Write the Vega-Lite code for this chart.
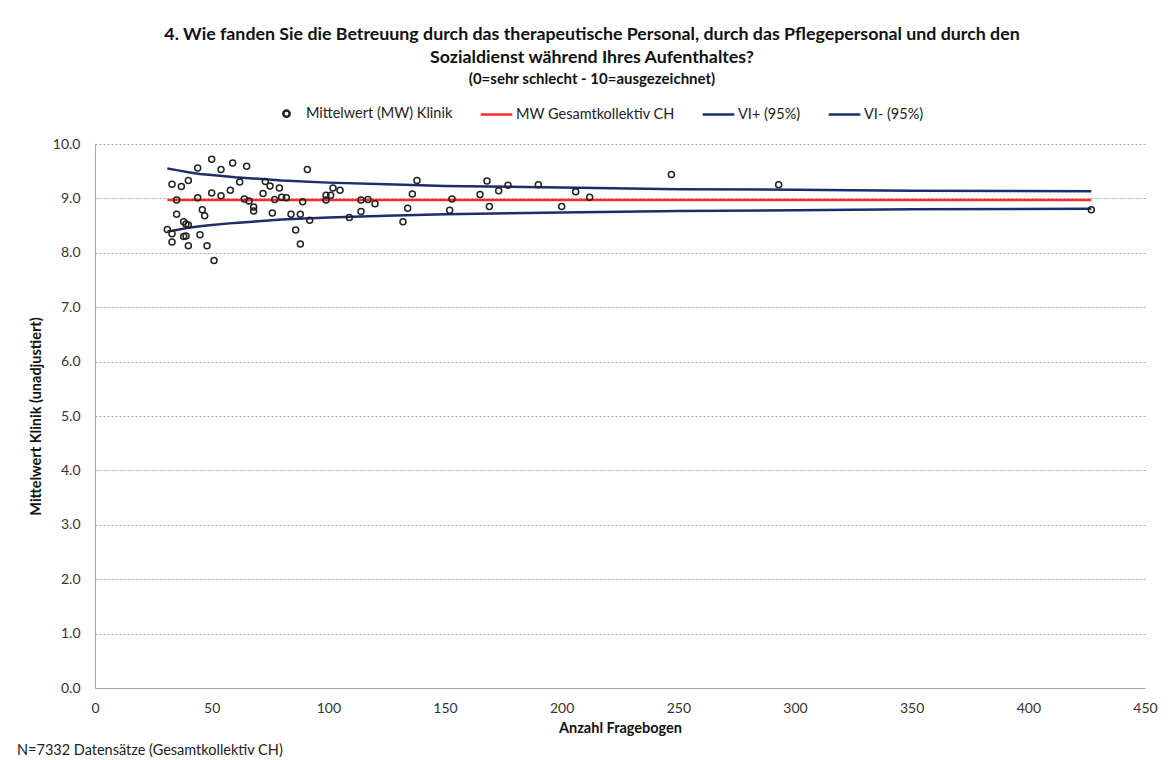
{
  "$schema": "https://vega.github.io/schema/vega-lite/v6.json",
  "padding": {"left": 17, "top": 26, "right": 12, "bottom": 4},
  "background": "white",
  "title": {
    "text": ["4. Wie fanden Sie die Betreuung durch das therapeutische Personal, durch das Pflegepersonal und durch den", "Sozialdienst während Ihres Aufenthaltes?"],
    "subtitle": "(0=sehr schlecht - 10=ausgezeichnet)",
    "anchor": "middle",
    "frame": "group",
    "dx": -28,
    "offset": 9,
    "font": "Lato",
    "fontSize": 17.8,
    "fontWeight": "bold",
    "lineHeight": 23,
    "color": "#111",
    "subtitleFont": "Lato",
    "subtitleFontSize": 15,
    "subtitleFontWeight": "bold",
    "subtitleColor": "#111",
    "subtitlePadding": 5
  },
  "datasets": {
    "points": [
      {"n": 31, "mw": 8.43, "series": "Mittelwert (MW) Klinik"},
      {"n": 33, "mw": 8.35, "series": "Mittelwert (MW) Klinik"},
      {"n": 33, "mw": 8.20, "series": "Mittelwert (MW) Klinik"},
      {"n": 33, "mw": 9.26, "series": "Mittelwert (MW) Klinik"},
      {"n": 35, "mw": 8.97, "series": "Mittelwert (MW) Klinik"},
      {"n": 35, "mw": 8.71, "series": "Mittelwert (MW) Klinik"},
      {"n": 37, "mw": 9.22, "series": "Mittelwert (MW) Klinik"},
      {"n": 38, "mw": 8.57, "series": "Mittelwert (MW) Klinik"},
      {"n": 38, "mw": 8.30, "series": "Mittelwert (MW) Klinik"},
      {"n": 39, "mw": 8.31, "series": "Mittelwert (MW) Klinik"},
      {"n": 39, "mw": 8.53, "series": "Mittelwert (MW) Klinik"},
      {"n": 40, "mw": 9.33, "series": "Mittelwert (MW) Klinik"},
      {"n": 40, "mw": 8.51, "series": "Mittelwert (MW) Klinik"},
      {"n": 40, "mw": 8.13, "series": "Mittelwert (MW) Klinik"},
      {"n": 44, "mw": 9.56, "series": "Mittelwert (MW) Klinik"},
      {"n": 44, "mw": 9.01, "series": "Mittelwert (MW) Klinik"},
      {"n": 45, "mw": 8.33, "series": "Mittelwert (MW) Klinik"},
      {"n": 46, "mw": 8.79, "series": "Mittelwert (MW) Klinik"},
      {"n": 47, "mw": 8.68, "series": "Mittelwert (MW) Klinik"},
      {"n": 48, "mw": 8.13, "series": "Mittelwert (MW) Klinik"},
      {"n": 50, "mw": 9.72, "series": "Mittelwert (MW) Klinik"},
      {"n": 50, "mw": 9.10, "series": "Mittelwert (MW) Klinik"},
      {"n": 51, "mw": 7.86, "series": "Mittelwert (MW) Klinik"},
      {"n": 54, "mw": 9.53, "series": "Mittelwert (MW) Klinik"},
      {"n": 54, "mw": 9.05, "series": "Mittelwert (MW) Klinik"},
      {"n": 58, "mw": 9.15, "series": "Mittelwert (MW) Klinik"},
      {"n": 59, "mw": 9.65, "series": "Mittelwert (MW) Klinik"},
      {"n": 62, "mw": 9.30, "series": "Mittelwert (MW) Klinik"},
      {"n": 64, "mw": 8.99, "series": "Mittelwert (MW) Klinik"},
      {"n": 65, "mw": 9.59, "series": "Mittelwert (MW) Klinik"},
      {"n": 66, "mw": 8.95, "series": "Mittelwert (MW) Klinik"},
      {"n": 68, "mw": 8.84, "series": "Mittelwert (MW) Klinik"},
      {"n": 68, "mw": 8.77, "series": "Mittelwert (MW) Klinik"},
      {"n": 72, "mw": 9.09, "series": "Mittelwert (MW) Klinik"},
      {"n": 73, "mw": 9.31, "series": "Mittelwert (MW) Klinik"},
      {"n": 75, "mw": 9.23, "series": "Mittelwert (MW) Klinik"},
      {"n": 76, "mw": 8.73, "series": "Mittelwert (MW) Klinik"},
      {"n": 77, "mw": 8.98, "series": "Mittelwert (MW) Klinik"},
      {"n": 79, "mw": 9.19, "series": "Mittelwert (MW) Klinik"},
      {"n": 80, "mw": 9.02, "series": "Mittelwert (MW) Klinik"},
      {"n": 82, "mw": 9.01, "series": "Mittelwert (MW) Klinik"},
      {"n": 84, "mw": 8.71, "series": "Mittelwert (MW) Klinik"},
      {"n": 86, "mw": 8.42, "series": "Mittelwert (MW) Klinik"},
      {"n": 88, "mw": 8.71, "series": "Mittelwert (MW) Klinik"},
      {"n": 88, "mw": 8.16, "series": "Mittelwert (MW) Klinik"},
      {"n": 89, "mw": 8.94, "series": "Mittelwert (MW) Klinik"},
      {"n": 91, "mw": 9.53, "series": "Mittelwert (MW) Klinik"},
      {"n": 92, "mw": 8.60, "series": "Mittelwert (MW) Klinik"},
      {"n": 99, "mw": 9.06, "series": "Mittelwert (MW) Klinik"},
      {"n": 99, "mw": 8.97, "series": "Mittelwert (MW) Klinik"},
      {"n": 101, "mw": 9.06, "series": "Mittelwert (MW) Klinik"},
      {"n": 102, "mw": 9.19, "series": "Mittelwert (MW) Klinik"},
      {"n": 105, "mw": 9.15, "series": "Mittelwert (MW) Klinik"},
      {"n": 109, "mw": 8.65, "series": "Mittelwert (MW) Klinik"},
      {"n": 114, "mw": 8.97, "series": "Mittelwert (MW) Klinik"},
      {"n": 114, "mw": 8.76, "series": "Mittelwert (MW) Klinik"},
      {"n": 117, "mw": 8.98, "series": "Mittelwert (MW) Klinik"},
      {"n": 120, "mw": 8.90, "series": "Mittelwert (MW) Klinik"},
      {"n": 132, "mw": 8.57, "series": "Mittelwert (MW) Klinik"},
      {"n": 134, "mw": 8.82, "series": "Mittelwert (MW) Klinik"},
      {"n": 136, "mw": 9.08, "series": "Mittelwert (MW) Klinik"},
      {"n": 138, "mw": 9.33, "series": "Mittelwert (MW) Klinik"},
      {"n": 152, "mw": 8.78, "series": "Mittelwert (MW) Klinik"},
      {"n": 153, "mw": 8.99, "series": "Mittelwert (MW) Klinik"},
      {"n": 165, "mw": 9.07, "series": "Mittelwert (MW) Klinik"},
      {"n": 168, "mw": 9.32, "series": "Mittelwert (MW) Klinik"},
      {"n": 169, "mw": 8.85, "series": "Mittelwert (MW) Klinik"},
      {"n": 173, "mw": 9.14, "series": "Mittelwert (MW) Klinik"},
      {"n": 177, "mw": 9.24, "series": "Mittelwert (MW) Klinik"},
      {"n": 190, "mw": 9.25, "series": "Mittelwert (MW) Klinik"},
      {"n": 200, "mw": 8.85, "series": "Mittelwert (MW) Klinik"},
      {"n": 206, "mw": 9.12, "series": "Mittelwert (MW) Klinik"},
      {"n": 212, "mw": 9.02, "series": "Mittelwert (MW) Klinik"},
      {"n": 247, "mw": 9.44, "series": "Mittelwert (MW) Klinik"},
      {"n": 293, "mw": 9.25, "series": "Mittelwert (MW) Klinik"},
      {"n": 427, "mw": 8.79, "series": "Mittelwert (MW) Klinik"}
    ],
    "lines": [
      {"n": 31, "v": 8.97, "series": "MW Gesamtkollektiv CH"},
      {"n": 427, "v": 8.97, "series": "MW Gesamtkollektiv CH"},
      {"n": 31, "v": 9.55, "series": "VI+ (95%)"},
      {"n": 35, "v": 9.52, "series": "VI+ (95%)"},
      {"n": 40, "v": 9.48, "series": "VI+ (95%)"},
      {"n": 45, "v": 9.45, "series": "VI+ (95%)"},
      {"n": 50, "v": 9.43, "series": "VI+ (95%)"},
      {"n": 60, "v": 9.39, "series": "VI+ (95%)"},
      {"n": 70, "v": 9.36, "series": "VI+ (95%)"},
      {"n": 80, "v": 9.33, "series": "VI+ (95%)"},
      {"n": 100, "v": 9.29, "series": "VI+ (95%)"},
      {"n": 125, "v": 9.26, "series": "VI+ (95%)"},
      {"n": 150, "v": 9.23, "series": "VI+ (95%)"},
      {"n": 200, "v": 9.20, "series": "VI+ (95%)"},
      {"n": 250, "v": 9.17, "series": "VI+ (95%)"},
      {"n": 300, "v": 9.16, "series": "VI+ (95%)"},
      {"n": 350, "v": 9.14, "series": "VI+ (95%)"},
      {"n": 427, "v": 9.13, "series": "VI+ (95%)"},
      {"n": 31, "v": 8.39, "series": "VI- (95%)"},
      {"n": 35, "v": 8.42, "series": "VI- (95%)"},
      {"n": 40, "v": 8.46, "series": "VI- (95%)"},
      {"n": 45, "v": 8.49, "series": "VI- (95%)"},
      {"n": 50, "v": 8.51, "series": "VI- (95%)"},
      {"n": 60, "v": 8.55, "series": "VI- (95%)"},
      {"n": 70, "v": 8.58, "series": "VI- (95%)"},
      {"n": 80, "v": 8.61, "series": "VI- (95%)"},
      {"n": 100, "v": 8.65, "series": "VI- (95%)"},
      {"n": 125, "v": 8.68, "series": "VI- (95%)"},
      {"n": 150, "v": 8.71, "series": "VI- (95%)"},
      {"n": 200, "v": 8.74, "series": "VI- (95%)"},
      {"n": 250, "v": 8.77, "series": "VI- (95%)"},
      {"n": 300, "v": 8.78, "series": "VI- (95%)"},
      {"n": 350, "v": 8.80, "series": "VI- (95%)"},
      {"n": 427, "v": 8.81, "series": "VI- (95%)"}
    ]
  },
  "vconcat": [
    {
      "width": 1050,
      "height": 544,
      "title": {
        "text": "N=7332 Datensätze (Gesamtkollektiv CH)",
        "orient": "bottom",
        "anchor": "start",
        "frame": "group",
        "dx": -78,
        "offset": 9,
        "font": "Lato",
        "fontSize": 14.5,
        "fontWeight": "normal",
        "color": "#222"
      },
      "encoding": {
        "x": {
          "field": "n",
          "type": "quantitative",
          "scale": {"domain": [0, 450], "nice": false, "zero": true},
          "axis": {
            "values": [0, 50, 100, 150, 200, 250, 300, 350, 400, 450],
            "title": "Anzahl Fragebogen",
            "grid": false,
            "labelFlush": false,
            "labelPadding": 13,
            "titlePadding": 6
          }
        }
      },
      "layer": [
        {
          "data": {"name": "lines"},
          "mark": {"type": "line", "strokeWidth": 2.5},
          "encoding": {
            "y": {
              "field": "v",
              "type": "quantitative",
              "scale": {"domain": [0, 10], "nice": false},
              "axis": {
                "values": [0, 1, 2, 3, 4, 5, 6, 7, 8, 9, 10],
                "format": ".1f",
                "title": "Mittelwert Klinik (unadjustiert)",
                "grid": true,
                "gridDash": [2, 2],
                "gridColor": "#a6a6a6",
                "labelPadding": 15,
                "titlePadding": 9
              }
            },
            "color": {
              "field": "series",
              "type": "nominal",
              "scale": {
                "domain": ["Mittelwert (MW) Klinik", "MW Gesamtkollektiv CH", "VI+ (95%)", "VI- (95%)"],
                "range": ["#222222", "#ff2a2a", "#1f2d6b", "#1f2d6b"]
              },
              "legend": {"title": null}
            }
          }
        },
        {
          "data": {"name": "points"},
          "mark": {"type": "point", "filled": false, "strokeWidth": 1.5, "opacity": 1, "size": 900},
          "encoding": {
            "y": {"field": "mw", "type": "quantitative"},
            "color": {"field": "series", "type": "nominal", "legend": {"title": null}},
            "shape": {
              "field": "series",
              "type": "nominal",
              "scale": {
                "domain": ["Mittelwert (MW) Klinik", "MW Gesamtkollektiv CH", "VI+ (95%)", "VI- (95%)"],
                "range": ["M-0.2,0A0.2,0.2,0,1,0,0.2,0A0.2,0.2,0,1,0,-0.2,0Z", "stroke", "stroke", "stroke"]
              },
              "legend": {"title": null}
            }
          }
        }
      ]
    }
  ],
  "config": {
    "view": {"stroke": null},
    "font": "Lato",
    "axis": {
      "labelFont": "Lato",
      "labelFontSize": 14,
      "labelColor": "#333",
      "titleFont": "Lato",
      "titleFontSize": 14.5,
      "titleFontWeight": "bold",
      "titleColor": "#111",
      "domainColor": "#a6a6a6",
      "domainWidth": 1,
      "ticks": false
    },
    "legend": {
      "orient": "none",
      "legendX": 174,
      "legendY": -48,
      "direction": "horizontal",
      "labelFont": "Lato",
      "labelFontSize": 14.5,
      "labelColor": "#222",
      "symbolSize": 1000,
      "symbolStrokeWidth": 2.5,
      "symbolFillColor": "transparent",
      "labelOffset": 2,
      "columnPadding": 22,
      "labelLimit": 300
    }
  }
}
